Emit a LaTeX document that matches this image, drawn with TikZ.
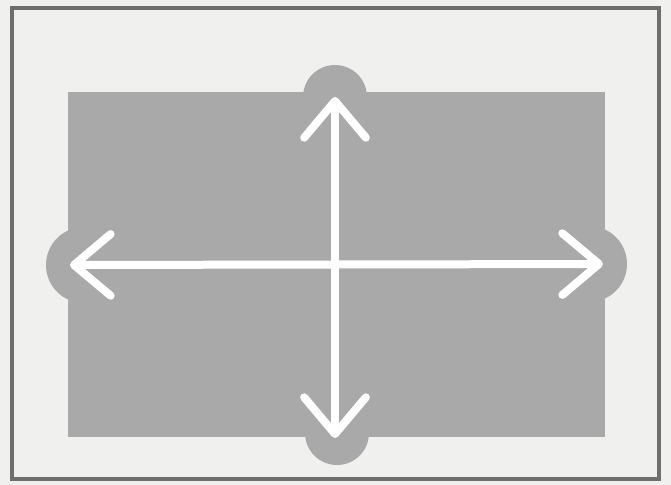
\documentclass[tikz,border=0pt]{standalone}
\usepackage{xcolor}
\usepackage{tikz}
\usetikzlibrary{arrows.meta}

\definecolor{paper}{HTML}{F0F0EF}
\definecolor{panel}{HTML}{A9A9A9}
\definecolor{frame}{HTML}{6E6E6E}

\begin{document}
\begin{tikzpicture}[
    x=0.03cm, y=-0.03cm,
    panel/.style={fill=panel, draw=none},
    frame/.style={draw=frame, line width=4.5*0.03cm},
    arrow/.style={draw=white, line width=8*0.03cm, line cap=round,
        {Straight Barb[length=1.1cm, width=1.85cm, line cap=round, round]}-{Straight Barb[length=1.1cm, width=1.85cm, line cap=round, round]}}
]

\useasboundingbox (0,0) rectangle (671,485);
\fill[paper] (0,0) rectangle (671,485);

% gray plate with four tabs
\fill[panel] (68,92) rectangle (605,437);
\fill[panel] (335,97) circle (32);
\fill[panel] (337,433) circle (32);
\fill[panel] (84,265) circle (38);
\fill[panel] (589,264) circle (38);

\draw[frame] (12,8) rectangle (659,479);

% axes
\coordinate (north) at (335,97);
\coordinate (south) at (335,438);
\coordinate (west) at (70,265);
\coordinate (east) at (603,264);

\draw[arrow] (south) -- (north);
\draw[arrow] (west) -- (east);

\end{tikzpicture}
\end{document}
